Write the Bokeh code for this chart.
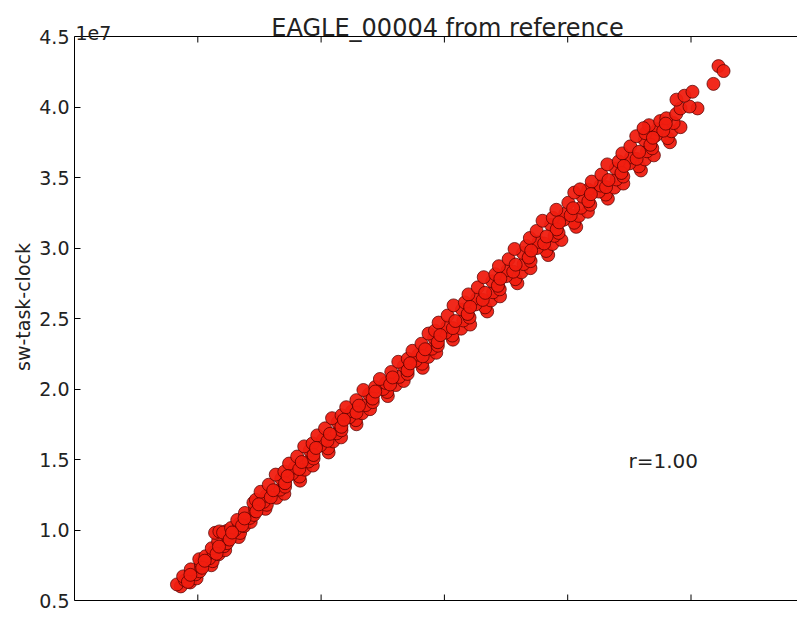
from bokeh.plotting import figure
from bokeh.models import (Range1d, FixedTicker, Label, ColumnDataSource, Span,
                          PrintfTickFormatter)
from bokeh.embed import file_html
from bokeh.resources import INLINE

# ---- data ----
title_text = "EAGLE_00004 from reference"
y_label = "sw-task-clock"
r_text = "r=1.00"
y_ticks = [0.5, 1.0, 1.5, 2.0, 2.5, 3.0, 3.5, 4.0, 4.5]   # x 1e7
x_ticks = [1, 2, 3, 4, 5]

# reference metric (x, unlabeled) and sw-task-clock (in units of 1e7)
ref_x = [
    0.862, 0.831, 0.938, 0.896, 0.990, 0.881, 0.983,
    1.016, 0.943, 1.027, 1.110, 1.025, 1.121, 1.012,
    1.094, 1.063, 1.170, 1.128, 1.222, 1.113, 1.215,
    1.238, 1.165, 1.249, 1.332, 1.247, 1.343, 1.234, 1.140, 1.175, 1.205,
    1.301, 1.270, 1.377, 1.335, 1.429, 1.320, 1.422,
    1.455, 1.382, 1.466, 1.549, 1.464, 1.560, 1.451,
    1.534, 1.471, 1.638, 1.556, 1.702, 1.509, 1.667,
    1.708, 1.575, 1.703, 1.830, 1.677, 1.825, 1.632,
    1.765, 1.702, 1.869, 1.787, 1.933, 1.740, 1.898,
    1.939, 1.806, 1.934, 2.061, 1.908, 2.056, 1.863,
    1.994, 1.931, 2.098, 2.016, 2.162, 1.969, 2.127,
    2.165, 2.032, 2.160, 2.287, 2.134, 2.282, 2.089,
    2.229, 2.166, 2.333, 2.251, 2.397, 2.204, 2.362,
    2.419, 2.286, 2.414, 2.541, 2.388, 2.536, 2.343,
    2.502, 2.439, 2.606, 2.524, 2.670, 2.477, 2.635,
    2.702, 2.569, 2.697, 2.824, 2.671, 2.819, 2.626,
    2.766, 2.703, 2.870, 2.788, 2.934, 2.741, 2.899,
    2.947, 2.814, 2.942, 3.069, 2.916, 3.064, 2.871,
    3.011, 2.924, 3.136, 3.024, 3.209, 2.953, 3.153,
    3.204, 3.026, 3.187, 3.347, 3.143, 3.330, 3.074,
    3.253, 3.166, 3.378, 3.266, 3.451, 3.195, 3.395,
    3.449, 3.271, 3.432, 3.592, 3.388, 3.575, 3.319,
    3.500, 3.413, 3.625, 3.513, 3.698, 3.442, 3.642,
    3.699, 3.521, 3.682, 3.842, 3.638, 3.825, 3.569,
    3.751, 3.664, 3.876, 3.764, 3.949, 3.693, 3.893,
    3.926, 3.748, 3.909, 4.069, 3.865, 4.052, 3.796,
    3.966, 3.879, 4.091, 3.979, 4.164, 3.908, 4.108,
    4.183, 4.005, 4.166, 4.326, 4.122, 4.309, 4.053,
    4.253, 4.166, 4.378, 4.266, 4.451, 4.195, 4.395, 4.100,
    4.451, 4.273, 4.434, 4.594, 4.390, 4.577, 4.321,
    4.501, 4.414, 4.626, 4.514, 4.699, 4.443, 4.643,
    4.686, 4.508, 4.669, 4.829, 4.625, 4.812, 4.556,
    4.717, 4.630, 4.842, 4.730, 4.915, 4.659, 4.859, 4.615,
    4.750, 4.800, 4.880, 4.915, 5.053, 4.988, 4.882, 4.947, 5.012, 5.182, 5.223, 5.264,
    # points in the dense core of the band
    0.920, 1.036, 1.152, 1.258, 1.359, 1.475, 1.592, 1.708, 1.823, 1.939, 2.052,
    2.165, 2.287, 2.419, 2.560, 2.702, 2.824, 2.947, 3.069, 3.189, 3.311, 3.434,
    3.558, 3.684, 3.809, 3.911, 4.024, 4.168, 4.311, 4.436, 4.559, 4.671, 4.775,
    0.940, 1.056, 1.172, 1.278, 1.379, 1.495, 1.612, 1.728, 1.843, 1.959, 2.072,
    2.185, 2.307, 2.439, 2.580, 2.722, 2.844, 2.967, 3.089, 3.209, 3.331, 3.454,
    3.578, 3.704, 3.829, 3.931, 4.044, 4.188, 4.331, 4.456, 4.579, 4.691, 4.795,
]
sw_task_clock_e7 = [
    0.600, 0.614, 0.628, 0.643, 0.657, 0.671, 0.686,
    0.707, 0.721, 0.736, 0.750, 0.764, 0.779, 0.793,
    0.800, 0.814, 0.828, 0.843, 0.857, 0.871, 0.886,
    0.907, 0.921, 0.936, 0.950, 0.964, 0.979, 0.993, 0.980, 0.990, 0.982,
    1.000, 1.014, 1.028, 1.043, 1.057, 1.071, 1.086,
    1.107, 1.121, 1.136, 1.150, 1.164, 1.179, 1.193,
    1.200, 1.214, 1.228, 1.243, 1.257, 1.271, 1.286,
    1.307, 1.321, 1.336, 1.350, 1.364, 1.379, 1.393,
    1.400, 1.414, 1.428, 1.443, 1.457, 1.471, 1.486,
    1.507, 1.521, 1.536, 1.550, 1.564, 1.579, 1.593,
    1.600, 1.614, 1.628, 1.643, 1.657, 1.671, 1.686,
    1.707, 1.721, 1.736, 1.750, 1.764, 1.779, 1.793,
    1.800, 1.814, 1.828, 1.843, 1.857, 1.871, 1.886,
    1.907, 1.921, 1.936, 1.950, 1.964, 1.979, 1.993,
    2.000, 2.014, 2.028, 2.043, 2.057, 2.071, 2.086,
    2.107, 2.121, 2.136, 2.150, 2.164, 2.179, 2.193,
    2.200, 2.214, 2.228, 2.243, 2.257, 2.271, 2.286,
    2.307, 2.321, 2.336, 2.350, 2.364, 2.379, 2.393,
    2.400, 2.414, 2.428, 2.443, 2.457, 2.471, 2.486,
    2.507, 2.521, 2.536, 2.550, 2.564, 2.579, 2.593,
    2.600, 2.614, 2.628, 2.643, 2.657, 2.671, 2.686,
    2.707, 2.721, 2.736, 2.750, 2.764, 2.779, 2.793,
    2.800, 2.814, 2.828, 2.843, 2.857, 2.871, 2.886,
    2.907, 2.921, 2.936, 2.950, 2.964, 2.979, 2.993,
    3.000, 3.014, 3.028, 3.043, 3.057, 3.071, 3.086,
    3.107, 3.121, 3.136, 3.150, 3.164, 3.179, 3.193,
    3.200, 3.214, 3.228, 3.243, 3.257, 3.271, 3.286,
    3.307, 3.321, 3.336, 3.350, 3.364, 3.379, 3.393,
    3.400, 3.414, 3.428, 3.443, 3.457, 3.471, 3.486, 3.416,
    3.507, 3.521, 3.536, 3.550, 3.564, 3.579, 3.593,
    3.600, 3.614, 3.628, 3.643, 3.657, 3.671, 3.686,
    3.707, 3.721, 3.736, 3.750, 3.764, 3.779, 3.793,
    3.800, 3.814, 3.828, 3.843, 3.857, 3.871, 3.886, 3.850,
    3.900, 3.920, 3.950, 3.990, 3.990, 4.003, 4.052, 4.080, 4.108, 4.164, 4.290, 4.255,
    # points in the dense core of the band
    0.632, 0.732, 0.832, 0.932, 1.032, 1.132, 1.232, 1.332, 1.432, 1.532, 1.632,
    1.732, 1.832, 1.932, 2.032, 2.132, 2.232, 2.332, 2.432, 2.532, 2.632, 2.732,
    2.832, 2.932, 3.032, 3.132, 3.232, 3.332, 3.432, 3.532, 3.632, 3.732, 3.832,
    0.682, 0.782, 0.882, 0.982, 1.082, 1.182, 1.282, 1.382, 1.482, 1.582, 1.682,
    1.782, 1.882, 1.982, 2.082, 2.182, 2.282, 2.382, 2.482, 2.582, 2.682, 2.782,
    2.882, 2.982, 3.082, 3.182, 3.282, 3.382, 3.482, 3.582, 3.682, 3.782, 3.882,
]

FONT = "DejaVu Sans"
TXT = "#222222"
W, H = 797, 613
LEFT = 74                 # frame left edge (px)
PX_PER_X = 123.3          # screen pixels per x unit
PX_PER_Y = 141.0          # screen pixels per 1e7 unit
TOP_PAD = 36              # px from canvas top to the 4.5 line
TICK = 6 / PX_PER_Y       # inward tick length in data units

src = ColumnDataSource(data=dict(x=ref_x, y=sw_task_clock_e7))

y_top = y_ticks[-1] + TOP_PAD / PX_PER_Y
y_bot = y_top - H / PX_PER_Y

# frame covers the full height; the visible box is 0.5..4.5
p = figure(width=W, height=H, output_backend="svg", toolbar_location=None,
           x_range=Range1d(0, (W - LEFT) / PX_PER_X),
           y_range=Range1d(y_bot, y_top),
           min_border_left=LEFT, min_border_right=0, min_border_top=0,
           min_border_bottom=0, x_axis_location=None)
p.background_fill_color = "white"
p.border_fill_color = "white"
p.outline_line_color = None
p.xgrid.visible = False
p.ygrid.visible = False

for ax in p.yaxis:
    ax.bounds = (y_ticks[0], y_ticks[-1])
    ax.ticker = FixedTicker(ticks=y_ticks)
    ax.formatter = PrintfTickFormatter(format="%.1f")
    ax.major_tick_in = 6
    ax.major_tick_out = 0
    ax.minor_tick_in = 0
    ax.minor_tick_out = 0
    ax.major_label_standoff = 5
    ax.major_label_text_font = FONT
    ax.major_label_text_font_size = "19px"
    ax.major_label_text_color = TXT
    ax.axis_label = y_label
    ax.axis_label_text_font = FONT
    ax.axis_label_text_font_size = "19px"
    ax.axis_label_text_font_style = "normal"
    ax.axis_label_text_color = TXT
    ax.axis_label_standoff = 2
    ax.axis_line_color = "black"
    ax.major_tick_line_color = "black"

# top and bottom edges of the axes box, with inward ticks
for loc in (y_ticks[0], y_ticks[-1]):
    p.add_layout(Span(location=loc, dimension="width", line_color="black",
                      line_width=1))
n = len(x_ticks)
p.segment(x0=x_ticks, x1=x_ticks, y0=[y_ticks[0]] * n,
          y1=[y_ticks[0] + TICK] * n, line_color="black", line_width=1)
p.segment(x0=x_ticks, x1=x_ticks, y0=[y_ticks[-1]] * n,
          y1=[y_ticks[-1] - TICK] * n, line_color="black", line_width=1)

p.scatter(x="x", y="y", source=src, size=13, marker="circle",
          fill_color="#f01e10", fill_alpha=0.95,
          line_color="#500000", line_width=0.8, line_alpha=0.9)

p.add_layout(Label(x=3.025, y=y_ticks[-1], y_offset=9, text=title_text,
                   text_align="center", text_baseline="alphabetic",
                   text_font=FONT, text_font_size="24px", text_color=TXT))
p.add_layout(Label(x=0, y=y_ticks[-1], x_offset=1, y_offset=4, text="1e7",
                   text_align="left", text_baseline="alphabetic",
                   text_font=FONT, text_font_size="19px", text_color=TXT))
p.add_layout(Label(x=4.493, y=1.49, text=r_text,
                   text_align="left", text_baseline="alphabetic",
                   text_font=FONT, text_font_size="20px", text_color=TXT))

open("out.html", "w").write(file_html(p, INLINE))
